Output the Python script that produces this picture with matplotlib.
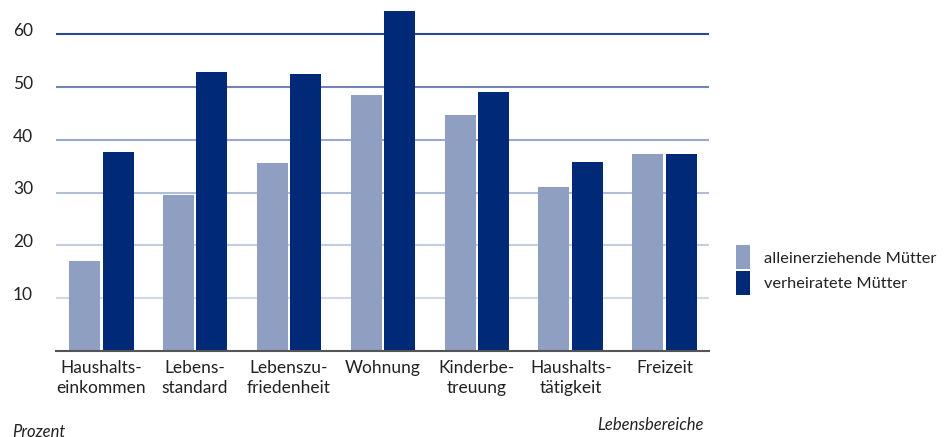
import matplotlib
matplotlib.use("Agg")
import matplotlib.pyplot as plt
import matplotlib.transforms as mtransforms
import numpy as np

categories = ["Haushalts-\neinkommen", "Lebens-\nstandard", "Lebenszu-\nfriedenheit", "Wohnung",
              "Kinderbe-\ntreuung", "Haushalts-\ntätigkeit", "Freizeit"]
alleinerziehend = [17.0, 29.5, 35.6, 48.5, 44.7, 31.1, 37.3]
verheiratet = [37.7, 52.8, 52.5, 64.4, 49.0, 35.8, 37.3]
series_names = ["alleinerziehende Mütter", "verheiratete Mütter"]
yticks = [10, 20, 30, 40, 50, 60]
grid_colors = ["#d0d8ea", "#c3cde3", "#b0bdd9", "#9aaace", "#7085b5", "#2a4a96"]

light = "#8e9fc2"
dark = "#002a78"

plt.rcParams['font.family'] = ['Lato', 'DejaVu Sans']
plt.rcParams['ytick.major.size'] = 0
plt.rcParams['xtick.major.size'] = 0
plt.rcParams['xtick.major.pad'] = 6.5

fig = plt.figure(figsize=(9.44, 4.37), dpi=100)
ax = fig.add_axes([56/944, 1-351/437, (709-56)/944, (351-2.5)/437])

x = np.arange(len(categories))
w = 0.33
off = 0.18
ax.bar(x - off, alleinerziehend, width=w, color=light, zorder=3, label=series_names[0])
ax.bar(x + off, verheiratet, width=w, color=dark, zorder=3, label=series_names[1])

for yv, c in zip(yticks, grid_colors):
    ax.axhline(yv, color=c, lw=1.5, zorder=1)

ax.set_xlim(-0.48, 6.47)
ax.set_ylim(0, 66)
for s in ["top", "right", "left"]:
    ax.spines[s].set_visible(False)
ax.spines["bottom"].set_color("#555555")
ax.spines["bottom"].set_linewidth(1.5)
ax.spines["bottom"].set_zorder(4)

# y tick labels placed near the left figure edge
ax.set_yticks(yticks)
ax.set_yticklabels([])
ytrans = mtransforms.blended_transform_factory(fig.transFigure, ax.transData)
for yv in yticks:
    ax.text(33/944, yv + 0.6, str(yv), transform=ytrans, ha="right", va="center",
            fontsize=12.5, color="#222222", clip_on=False)

ax.set_xticks(x)
ax.set_xticklabels(categories, fontsize=12.5, color="#222222", linespacing=1.3)

fig.text(12/944, 1-432/437, "Prozent", fontsize=12, style="italic", color="#222222", va="center", ha="left")
fig.text(704/944, 1-425/437, "Lebensbereiche", fontsize=12, style="italic", color="#222222", va="center", ha="right")

leg = ax.legend(loc="center left", bbox_to_anchor=(736/944, 1-270/437), bbox_transform=fig.transFigure,
                frameon=False, fontsize=11.8, handlelength=0.85, handleheight=1.85, handletextpad=0.85,
                labelspacing=0.1, borderaxespad=0, borderpad=0)
for t in leg.get_texts():
    t.set_color("#222222")

fig.savefig("out.png", dpi=100)
